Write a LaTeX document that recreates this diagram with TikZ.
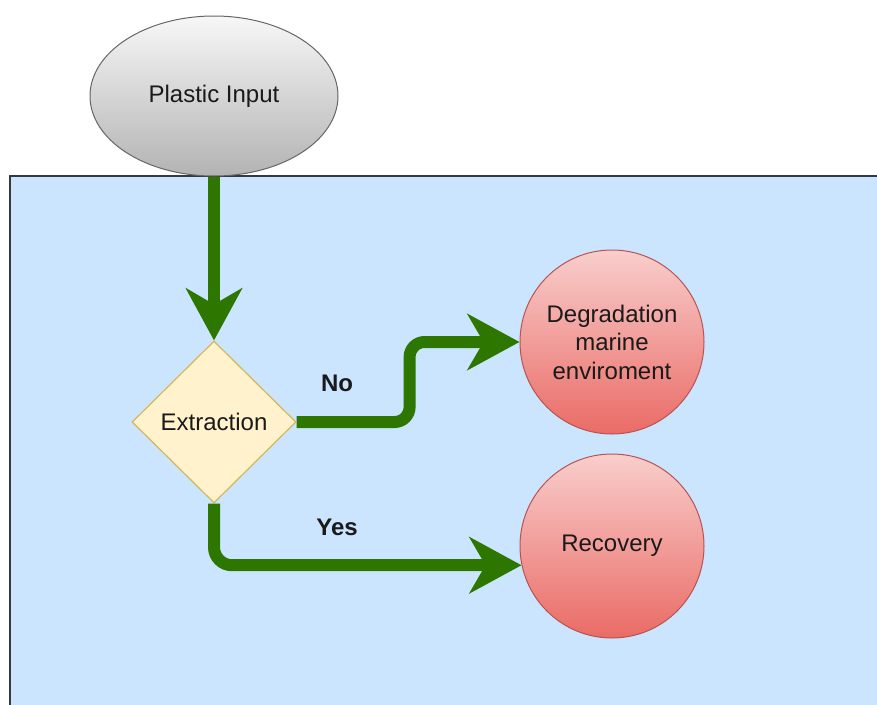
\documentclass[tikz,border=0pt]{standalone}
\usepackage{fontspec}
\setmainfont{Liberation Sans}
\usetikzlibrary{shapes.geometric,arrows.meta}
\definecolor{seablue}{HTML}{CCE5FF}
\definecolor{seaedge}{HTML}{36393D}
\definecolor{flowgreen}{HTML}{2D7600}
\definecolor{greytop}{HTML}{F7F7F7}
\definecolor{greybot}{HTML}{B3B3B3}
\definecolor{greyedge}{HTML}{666666}
\definecolor{decfill}{HTML}{FFF2CC}
\definecolor{decedge}{HTML}{D6B656}
\definecolor{redtop}{HTML}{F8CECC}
\definecolor{redbot}{HTML}{EA6B66}
\definecolor{rededge}{HTML}{B85450}
\definecolor{txt}{HTML}{1A1A1A}
\tikzset{
  label font/.style={font=\fontsize{24}{28.5}\selectfont, text=txt},
  startbox/.style={ellipse, draw=greyedge, line width=1pt, top color=greytop,
    bottom color=greybot, minimum width=248pt, minimum height=160pt,
    inner sep=0pt, label font},
  decision/.style={diamond, draw=decedge, line width=1.2pt, fill=decfill,
    minimum width=164pt, minimum height=162pt, inner sep=0pt, label font},
  outcome/.style={circle, draw=rededge, line width=1pt, top color=redtop,
    bottom color=redbot, minimum size=184pt, inner sep=0pt, align=center,
    label font},
  flow/.style={draw=flowgreen, line width=12pt, line join=round,
    -{Stealth[length=52pt,width=56pt,inset=16pt]}},
  branch/.style={font=\fontsize{24}{28}\selectfont\bfseries, text=txt},
}
\begin{document}
\begin{tikzpicture}[x=1pt,y=-1pt]
  \clip (0,0) rectangle (877,704);
  \fill[white] (0,0) rectangle (877,704);
  % sea area
  \fill[seablue] (10,176) rectangle (900,730);
  \draw[seaedge, line width=2pt] (10,730) -- (10,176) -- (900,176);

  \node[startbox] (pi) at (214,96) {Plastic Input};
  \node[decision] (ex) at (214,422) {Extraction};
  \node[outcome] (dg) at (612,342) {Degradation\\marine\\enviroment};
  \node[outcome] (rc) at (612,546) {Recovery};

  \draw[flow] (pi.south) -- (ex.north);
  \draw[flow, rounded corners=15pt] (ex.east) -- ++(113,0) |- (dg.west);
  \draw[flow, rounded corners=18pt] (ex.south) |- (rc.192);

  \node[branch] (no) at (337,383) {No};
  \node[branch] (yes) at (337,527) {Yes};
\end{tikzpicture}
\end{document}
